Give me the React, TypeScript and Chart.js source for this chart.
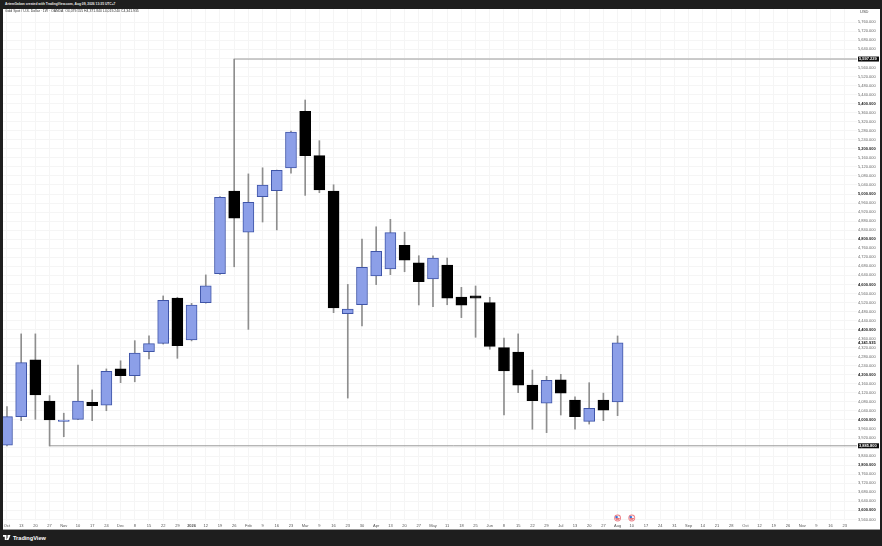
import React, { useEffect, useRef } from "react";
import { Chart, registerables } from "chart.js";

Chart.register(...registerables);

const xTickLabels = ["Oct","13","20","27","Nov","10","17","24","Dec","8","15","22","29","2026","12","19","26","Feb","9","16","23","Mar","9","16","23","30","Apr","13","20","27","May","11","18","25","Jun","8","15","22","29","Jul","13","20","27","Aug","10","17","24","31","Sep","14","21","28","Oct","12","19","26","Nov","9","16","23"];
const opens = [3889,4015,4266,4084,3994,4003,4078,4066,4226,4196,4302,4339,4540,4354,4519,4647,5013,4831,4988,5015,5116,5366,5170,5013,4470,4510,4637,4668,4773,4695,4624,4686,4544,4549,4519,4320,4301,4155,4074,4178,4088,3994,4088,4079.555];
const highs = [4059,4381,4381,4108,4030,4243,4133,4226,4262,4351,4372,4549,4543,4516,4642,4989,5597,5089,5116,5106,5279,5416,5236,5041,4600,4800,4855,4888,4831,4727,4726,4717,4587,4593,4543,4362,4381,4221,4193,4202,4102,4165,4119,4371.84];
const lows = [3885,3997,4003,3885,3926,4001,3997,4041,4165,4169,4270,4336,4273,4350,4517,4644,4678,4401,4876,4841,5092,4994,5006,4475,4097,4416,4599,4643,4656,4509,4501,4510,4453,4366,4313,4022,4121,3959,3944,4022,3959,3982,3997,4019.24];
const closes = [4015,4254,4111,4000,4000,4084,4063,4215,4196,4296,4338,4530,4329,4508,4594,4985,4893,4963,5040,5105,5274,5170,5018,4496,4491,4676,4746,4829,4707,4612,4717,4539,4508,4539,4326,4217,4154,4085,4176,4119,4015,4052,4043,4341.935];
const yTicks = [3560,3600,3640,3680,3720,3760,3800,3840,3880,3920,3960,4000,4040,4080,4120,4160,4200,4240,4280,4320,4360,4400,4440,4480,4520,4560,4600,4640,4680,4720,4760,4800,4840,4880,4920,4960,5000,5040,5080,5120,5160,5200,5240,5280,5320,5360,5400,5440,5480,5520,5560,5600,5640,5680,5720,5760];
const upperLevel = 5597.229;
const lowerLevel = 3885.8;
const lastClose = 4341.935;
const upperStart = 16;
const lowerStart = 3;
const eventIndexes = [43, 44];

const X_MIN = -0.28;
const X_MAX = 59.86;
const FONT = "'Liberation Sans', Arimo, sans-serif";
const fmt = (v: number) => v.toLocaleString("en-US", { minimumFractionDigits: 3, maximumFractionDigits: 3 });
const isMajor = (c: any) => c.tick !== undefined && c.tick.value % 200 === 0;

const overlayPlugin = {
  id: "overlay",
  afterDraw(chart: any) {
    const { ctx, scales, chartArea } = chart;
    const y = scales.y;
    const x = scales.x;
    ctx.save();
    ctx.font = `bold 4px ${FONT}`;
    ctx.textBaseline = "middle";
    ctx.textAlign = "left";
    for (const level of [upperLevel, lowerLevel]) {
      const py = y.getPixelForValue(level);
      ctx.fillStyle = "#0b0b0b";
      ctx.fillRect(chartArea.right + 1, py - 2.5, 21, 5);
      ctx.fillStyle = "#ffffff";
      ctx.fillText(fmt(level), chartArea.right + 2, py);
    }
    ctx.fillStyle = "#111111";
    ctx.fillText(fmt(lastClose), chartArea.right + 1, y.getPixelForValue(lastClose));
    ctx.fillStyle = "#444444";
    ctx.font = `4px ${FONT}`;
    ctx.fillText("USD", chartArea.right + 3, 3);
    for (const i of eventIndexes) {
      const px = x.getPixelForValue(i);
      const py = chartArea.bottom - 3;
      ctx.beginPath();
      ctx.arc(px, py, 3.4, 0, Math.PI * 2);
      ctx.fillStyle = "#ee7d84";
      ctx.fill();
      ctx.beginPath();
      ctx.arc(px, py, 2.5, 0, Math.PI * 2);
      ctx.fillStyle = "#f4f4f8";
      ctx.fill();
      ctx.fillStyle = "#e0404a";
      ctx.fillRect(px - 2.1, py + 0.2, 4.2, 0.7);
      ctx.fillRect(px - 1.6, py + 1.2, 3.2, 0.6);
      ctx.fillStyle = "#2f6fd8";
      ctx.fillRect(px - 2.1, py - 1.9, 2.2, 1.9);
    }
    ctx.restore();
  },
};

export default function App() {
  const ref = useRef<HTMLCanvasElement>(null);
  useEffect(() => {
    const indexes = opens.map((_, i) => i);
    const chart = new Chart(ref.current as HTMLCanvasElement, {
      type: "bar",
      data: {
        datasets: [
          {
            type: "bar",
            order: 1,
            grouped: false,
            barThickness: 11,
            borderSkipped: false,
            borderWidth: 1,
            data: indexes.map((i) => ({ x: i, y: [Math.min(opens[i], closes[i]), Math.max(opens[i], closes[i])] })),
            backgroundColor: indexes.map((i) => (closes[i] >= opens[i] ? "#8c9fe8" : "#000000")),
            borderColor: indexes.map((i) => (closes[i] >= opens[i] ? "#3f55a8" : "#000000")),
          },
          {
            type: "bar",
            order: 2,
            grouped: false,
            barThickness: 1,
            borderWidth: 0,
            data: indexes.map((i) => ({ x: i, y: [lows[i], highs[i]] })),
            backgroundColor: "#8e8e8e",
          },
          {
            type: "line",
            order: 3,
            data: [{ x: upperStart, y: upperLevel }, { x: X_MAX, y: upperLevel }],
            borderColor: "#9a9a9a",
            borderWidth: 1,
            pointRadius: 0,
          },
          {
            type: "line",
            order: 3,
            data: [{ x: lowerStart, y: lowerLevel }, { x: X_MAX, y: lowerLevel }],
            borderColor: "#9a9a9a",
            borderWidth: 1,
            pointRadius: 0,
          },
        ] as any,
      },
      options: {
        responsive: false,
        animation: false,
        devicePixelRatio: 1,
        layout: { padding: { left: 0, top: 0, right: 0, bottom: 0 } },
        plugins: { legend: { display: false }, tooltip: { enabled: false } },
        scales: {
          x: {
            type: "linear",
            offset: false,
            min: X_MIN,
            max: X_MAX,
            afterBuildTicks: (s: any) => {
              s.ticks = xTickLabels.map((_, i) => ({ value: i }));
            },
            afterFit: (s: any) => {
              s.height = 8;
              s.paddingLeft = 0;
              s.paddingRight = 0;
            },
            grid: { color: "#f5f5f5", lineWidth: 1, offset: false, drawTicks: false },
            border: { display: false },
            ticks: {
              autoSkip: false,
              maxRotation: 0,
              padding: 2,
              color: "#555555",
              font: (c: any) => ({
                family: FONT,
                size: 4,
                weight: xTickLabels[c.index] === "2026" ? "bold" : "normal",
              }),
              callback: (v: any) => xTickLabels[v] ?? "",
            },
          },
          y: {
            type: "linear",
            position: "right",
            min: 3553,
            max: 5818.7,
            afterBuildTicks: (s: any) => {
              s.ticks = yTicks.map((value) => ({ value }));
            },
            afterFit: (s: any) => {
              s.width = 23;
              s.paddingTop = 0;
              s.paddingBottom = 0;
            },
            grid: { color: "#f5f5f5", lineWidth: 1, drawTicks: false },
            border: { display: false },
            ticks: {
              autoSkip: false,
              padding: 1,
              color: (c: any) => (isMajor(c) ? "#222222" : "#666666"),
              font: (c: any) => ({
                family: FONT,
                size: 4,
                weight: isMajor(c) ? "bold" : "normal",
              }),
              callback: (v: any) => fmt(Number(v)),
            },
          },
        },
      } as any,
      plugins: [overlayPlugin],
    } as any);
    return () => chart.destroy();
  }, []);

  const text: React.CSSProperties = { position: "absolute", whiteSpace: "nowrap", fontFamily: FONT };
  return (
    <div style={{ position: "fixed", left: 0, top: 0, width: 882, height: 546, background: "#1e1e1e", overflow: "hidden" }}>
      <div style={{ ...text, left: 5, top: 1.5, fontSize: 3.3, lineHeight: "5px", color: "#e8e8e8", fontWeight: 700 }}>
        ArtemGaban created with TradingView.com, Aug 09, 2026 13:35 UTC+7
      </div>
      <canvas
        ref={ref}
        width={877}
        height={520}
        style={{ position: "absolute", left: 3, top: 9, width: 877, height: 520, background: "#ffffff", borderBottom: "1px solid #9a9a9a", boxSizing: "content-box" }}
      />
      <div style={{ ...text, left: 5, top: 9, fontSize: 3.45, lineHeight: "5px", color: "#333333" }}>
        Gold Spot / U.S. Dollar · 1W · OANDA&nbsp; O4,079.555 H4,371.840 L4,019.240 C4,341.935
      </div>
      <svg style={{ position: "absolute", left: 3, top: 535 }} width={9} height={5} viewBox="0 0 36 20">
        <path d="M0 0h14v20H7V7H0z M30 0 L22 20h-8l8-20z" fill="#ffffff" />
        <circle cx="21" cy="4" r="3.6" fill="#ffffff" />
      </svg>
      <div style={{ ...text, left: 13, top: 533.5, fontSize: 5.6, lineHeight: "8px", color: "#ffffff", fontWeight: 700 }}>TradingView</div>
    </div>
  );
}
